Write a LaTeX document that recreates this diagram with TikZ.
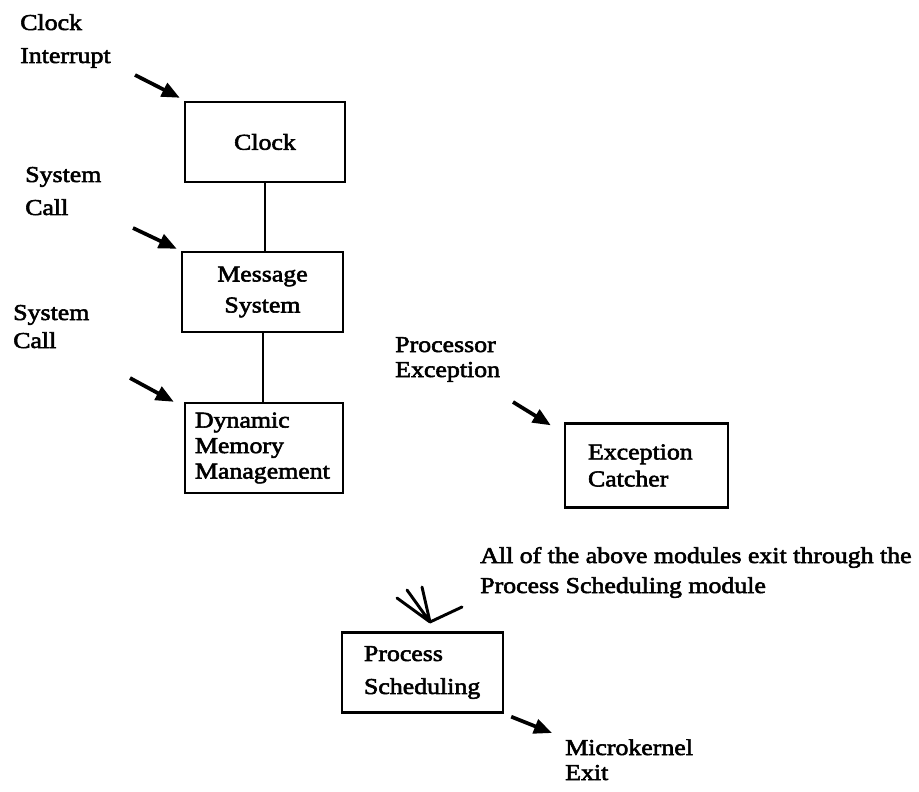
\documentclass[tikz,border=0pt]{standalone}
\usepackage{fontspec}
\setmainfont{Liberation Serif}[FakeStretch=1.14,FakeBold=2.5]
\usetikzlibrary{arrows.meta,calc}

% one drawing unit = one pixel of the page
\newlength{\pxl}
\setlength{\pxl}{0.75pt}

\tikzset{
  lead/.style={font=\fontsize{17pt}{#1\pxl}\selectfont},
  module/.style={draw, line width=1.8pt, inner sep=0pt, lead=30},
  caption/.style={anchor=base west, inner sep=0pt, align=left},
  feed/.style={line width=2.8pt, -{Triangle[length=13.5pt,width=11pt]}},
  link/.style={line width=1.5pt},
  merge/.style={line width=2.2pt, line cap=round}
}

\begin{document}
\begin{tikzpicture}[x=0.75pt,y=-0.75pt]
  \useasboundingbox (0,0) rectangle (919,791);

  % kernel modules
  \node[module, minimum width=160\pxl, minimum height=80\pxl] (clock) at (265,142) {Clock};
  \node[module, minimum width=161\pxl, minimum height=80\pxl, align=center, lead=31] (msg) at (262.5,292) {Message\\System};
  \node[module, minimum height=90\pxl, text width=138\pxl, inner xsep=10\pxl, align=left, lead=25.5] (dyn) at (264,448) {Dynamic\\Memory\\Management};
  \node[module, minimum height=84\pxl, text width=117\pxl, inner xsep=23\pxl, align=left, lead=27] (exc) at (646.5,465.5) {Exception\\Catcher};
  \node[module, minimum height=80\pxl, text width=117\pxl, inner xsep=22\pxl, align=left, lead=33] (ps) at (422.5,672.5) {Process\\Scheduling};

  % entry events and notes (placed by the baseline of their last line)
  \node[caption, lead=33] (irq) at (20,63) {Clock\\Interrupt};
  \node[caption, lead=33] (sys1) at (25,215) {System\\Call};
  \node[caption, lead=28] (sys2) at (13,348) {System\\Call};
  \node[caption, lead=25] (pexc) at (395,377) {Processor\\Exception};
  \node[caption, lead=30] (note) at (480,593) {All of the above modules exit through the\\Process Scheduling module};
  \node[caption, lead=25] (mk) at (565,780) {Microkernel\\Exit};

  % links between modules
  \draw[link] (clock.south) -- (clock.south |- msg.north);
  \draw[link] (msg.south) -- (msg.south |- dyn.north);

  % incoming events
  \coordinate (in1) at (135,75);
  \coordinate (in2) at (133,228);
  \coordinate (in3) at (130,378);
  \coordinate (in4) at (513,402);
  \draw[feed] (in1) -- ($(clock.north west)+(-4,-3)$);
  \draw[feed] (in2) -- ($(msg.north west)+(-4,-2)$);
  \draw[feed] (in3) -- ($(dyn.north west)+(-10,0)$);
  \draw[feed] (in4) -- ($(exc.north west)+(-13,3)$);

  % all modules converge on the scheduler
  \coordinate (conv) at (430,622);
  \coordinate (m1) at (397,598);
  \coordinate (m2) at (407,590);
  \coordinate (m3) at (422,587);
  \coordinate (m4) at (462,607);
  \draw[merge] (m1) -- (conv) (m2) -- (conv) (m3) -- (conv) (m4) -- (conv);

  % exit of the microkernel
  \draw[feed] ($(ps.south east)+(7,3)$) -- ($(mk.north west)+(-13,-6)$);
\end{tikzpicture}
\end{document}
